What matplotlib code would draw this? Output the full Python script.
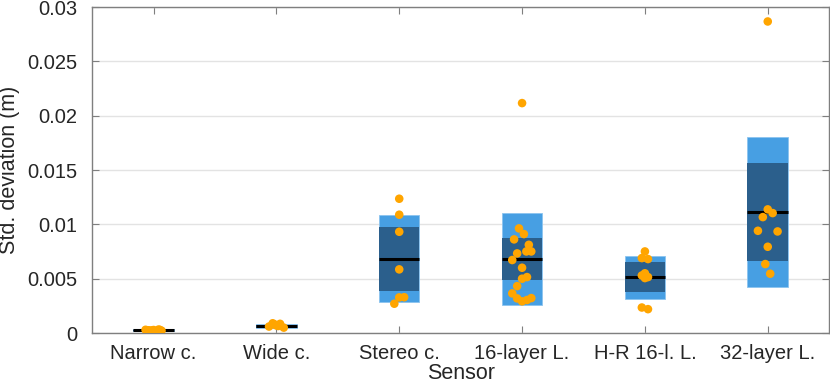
import matplotlib
matplotlib.use("Agg")
import matplotlib.pyplot as plt
import numpy as np

plt.rcParams['font.family'] = ['Liberation Sans', 'DejaVu Sans']

categories = ["Narrow c.", "Wide c.", "Stereo c.", "16-layer L.", "H-R 16-l. L.", "32-layer L."]

# box statistics: outer (light) low/high, inner (dark) low/high, median
outer_low  = [0.00018, 0.00045, 0.00282, 0.00255, 0.00313, 0.00426]
outer_high = [0.00033, 0.00080, 0.01083, 0.01101, 0.00711, 0.01806]
inner_low  = [0.00020, 0.00050, 0.00386, 0.00485, 0.00374, 0.00665]
inner_high = [0.00030, 0.00075, 0.00975, 0.00874, 0.00653, 0.01564]
medians    = [0.00025, 0.00065, 0.00680, 0.00678, 0.00515, 0.01116]

# individual points per sensor
pts_narrow = [0.00030, 0.00025, 0.00020, 0.00028, 0.00018, 0.00032, 0.00022, 0.00026, 0.00015, 0.00030, 0.00024, 0.00020]
pts_wide   = [0.00090, 0.00085, 0.00060, 0.00070, 0.00050, 0.00080, 0.00065]
pts_stereo = [0.01236, 0.01089, 0.00932, 0.00586, 0.00328, 0.00330, 0.00270]
pts_16     = [0.02116, 0.00963, 0.00911, 0.00862, 0.00812, 0.00751, 0.00751, 0.00733, 0.00672,
              0.00601, 0.00500, 0.00515, 0.00432, 0.00365, 0.00319, 0.00292, 0.00304, 0.00322]
pts_hr16   = [0.00751, 0.00690, 0.00681, 0.00550, 0.00530, 0.00515, 0.00506, 0.00235, 0.00220]
pts_32     = [0.02867, 0.01138, 0.01104, 0.01067, 0.00941, 0.00935, 0.00794, 0.00635, 0.00546]

# horizontal jitter (in category units)
jit_narrow = [-0.065, -0.04, -0.025, 0.0, 0.025, 0.04, 0.065, -0.05, 0.015, 0.05, -0.015, 0.03]
jit_wide   = [-0.03, 0.03, -0.06, 0.0, 0.06, -0.015, 0.015]
jit_stereo = [0.0, 0.0, 0.0, 0.0, 0.0, 0.04, -0.04]
jit_16     = [0.0, -0.025, 0.015, -0.065, 0.055, 0.035, 0.075, -0.04, -0.08,
              0.0, 0.0, 0.04, -0.04, -0.08, -0.04, 0.0, 0.04, 0.075]
jit_hr16   = [0.0, -0.025, 0.025, 0.0, -0.025, 0.025, 0.0, -0.025, 0.025]
jit_32     = [0.0, 0.0, 0.04, -0.04, -0.08, 0.08, 0.0, -0.02, 0.02]

points = [pts_narrow, pts_wide, pts_stereo, pts_16, pts_hr16, pts_32]
jitters = [jit_narrow, jit_wide, jit_stereo, jit_16, jit_hr16, jit_32]

light = "#479fe3"
dark = "#2b5f8c"
orange = "#ffa500"
axcol = "#7f7f7f"
txtcol = "#262626"

fig = plt.figure(figsize=(8.3, 3.9), dpi=100)
ax = fig.add_axes([0.111, 0.146, 0.888, 0.836])

w = 0.33
for i in range(len(categories)):
    x = i + 1
    ax.bar(x, outer_high[i] - outer_low[i], bottom=outer_low[i], width=w,
           color=light, edgecolor="#8cc4ef", linewidth=0.6, zorder=2)
    ax.bar(x, inner_high[i] - inner_low[i], bottom=inner_low[i], width=w,
           color=dark, edgecolor="none", zorder=3)
    ax.plot([x - w / 2, x + w / 2], [medians[i], medians[i]], color="black", lw=2.2, zorder=4,
            solid_capstyle="butt")
    xs = x + np.array(jitters[i])
    ax.scatter(xs, points[i], s=38, color=orange, edgecolors="none", zorder=5)

ax.set_xlim(0.5, 6.5)
ax.set_ylim(0, 0.03)
ax.set_xticks(range(1, 7))
ax.set_xticklabels(categories)
ax.set_yticks([0, 0.005, 0.01, 0.015, 0.02, 0.025, 0.03])
ax.set_yticklabels(["0", "0.005", "0.01", "0.015", "0.02", "0.025", "0.03"])
ax.yaxis.grid(True, color="#e3e3e3", lw=1.0, zorder=0)
ax.set_axisbelow(True)

ax.tick_params(direction="in", length=5, width=0.8, color=axcol, labelsize=14.5,
               labelcolor=txtcol, top=True, right=True)
ax.tick_params(axis="x", pad=8)
ax.tick_params(axis="y", pad=10.5)
for s in ax.spines.values():
    s.set_color(axcol)
    s.set_linewidth(1.0)

ax.set_xlabel("Sensor", fontsize=15.5, color=txtcol, labelpad=0)
ax.set_ylabel("Std. deviation (m)", fontsize=15.5, color=txtcol, labelpad=5)

fig.savefig("out.png", dpi=100)
